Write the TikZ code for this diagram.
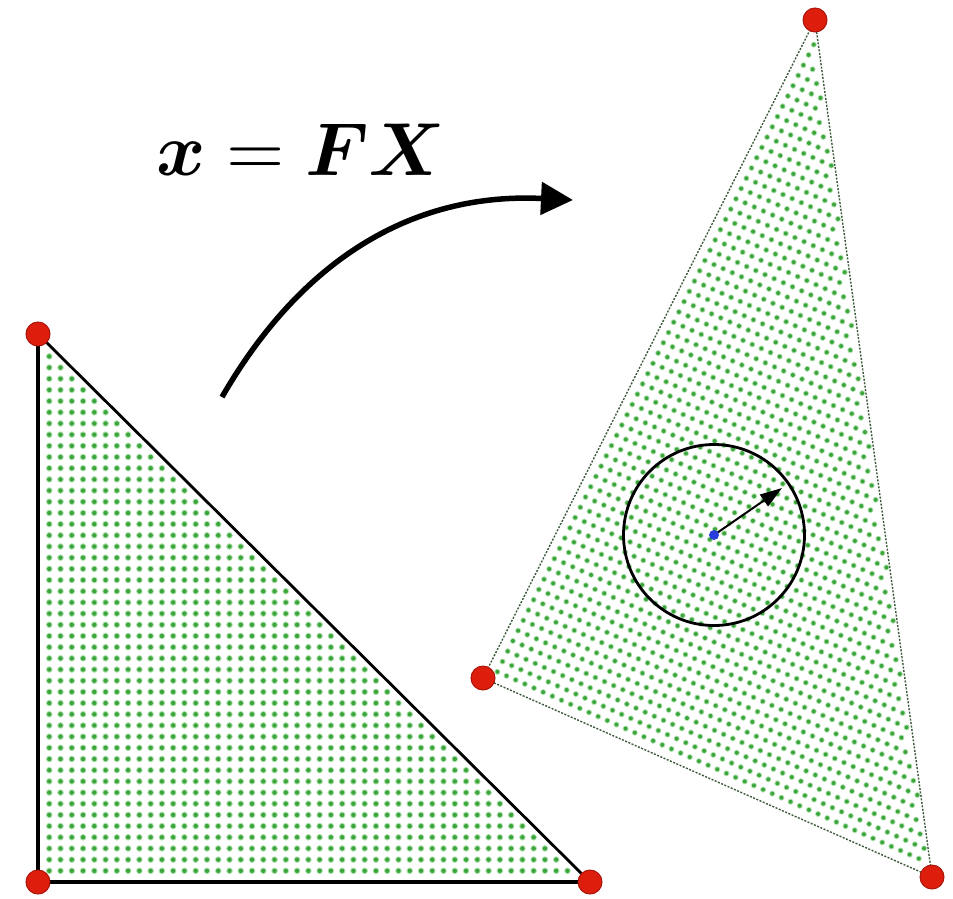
\documentclass[tikz,border=0pt]{standalone}
\usepackage{bm}
\usetikzlibrary{arrows.meta}
\definecolor{dotgreen}{RGB}{60,165,60}
\definecolor{halogreen}{RGB}{175,225,175}
\definecolor{vred}{RGB}{222,30,12}
\definecolor{vredd}{RGB}{170,20,10}
\definecolor{edgegreen}{RGB}{60,90,60}
\definecolor{cblue}{RGB}{40,60,220}
\tikzset{
  vertex/.style={circle,fill=vred,draw=vredd,line width=1pt,minimum size=24pt,inner sep=0pt},
  gdot/.style={fill=dotgreen},
  ghalo/.style={fill=halogreen},
}
\begin{document}
\begin{tikzpicture}[x=1pt,y=-1pt]
\useasboundingbox (0,0) rectangle (953,898);
% left triangle dots
\foreach \i in {1,...,47} {
  \pgfmathtruncatemacro\jm{48-\i}
  \foreach \j in {1,...,\jm} {
    \pgfmathsetmacro\px{38+\i/49*552}
    \pgfmathsetmacro\py{882-\j/49*548}
    \fill[ghalo] (\px,\py) circle (3.3);
    \fill[gdot] (\px,\py) circle (2.2);
  }
}
% right triangle dots
\foreach \i in {1,...,47} {
  \pgfmathtruncatemacro\jm{(49-\i)*64/49-0.5}
  \foreach \j in {1,...,\jm} {
    \pgfmathsetmacro\px{483+\i/49*449+\j/64*332}
    \pgfmathsetmacro\py{678+\i/49*199-\j/64*658}
    \fill[ghalo] (\px,\py) circle (3.0);
    \fill[gdot] (\px,\py) circle (2.0);
  }
}
% coordinates
\coordinate (A) at (38,334);
\coordinate (B) at (38,882);
\coordinate (C) at (590,882);
\coordinate (A2) at (815,20);
\coordinate (B2) at (483,678);
\coordinate (C2) at (932,877);
% left triangle edges
\draw[line width=4pt,line cap=round] (A) -- (B) -- (C);
\draw[line width=2.8pt] (C) -- (A);
% right triangle edges
\draw[edgegreen,line width=1.4pt,dash pattern=on 2pt off 1.5pt] (A2) -- (B2) -- (C2) -- cycle;
% vertices
\node[vertex] (vA) at (A) {};
\node[vertex] (vB) at (B) {};
\node[vertex] (vC) at (C) {};
\node[vertex] (vA2) at (A2) {};
\node[vertex] (vB2) at (B2) {};
\node[vertex] (vC2) at (C2) {};
% circle and arrow
\coordinate (P) at (714,535);
\coordinate (Q) at (782,488);
\draw[line width=2.8pt] (P) circle (90.5);
\draw[line width=2pt,-{Triangle[length=22pt,width=14pt]}] (P) -- (Q);
\fill[cblue] (P) circle (5);
% mapping arrow
\coordinate (s) at (222,397);
\coordinate (e) at (573,200);
\draw[line width=5.5pt,-{Triangle[length=32pt,width=32pt]}] (s) .. controls (300,262) and (410,192) .. (e);
% label
\node[scale=7.5,inner sep=0pt] (lbl) at (301,150) {$\bm{x}=\bm{F}\bm{X}$};
\end{tikzpicture}
\end{document}
